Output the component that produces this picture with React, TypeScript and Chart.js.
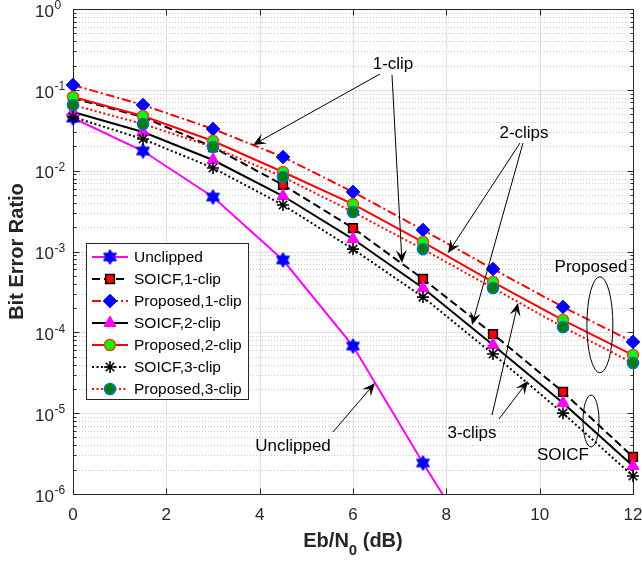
import React, { useEffect, useRef } from 'react';
import { Chart, registerables } from 'chart.js';

Chart.register(...registerables);

// ---------------- data ----------------
const ebn0 = [0, 1.5, 3, 4.5, 6, 7.5, 9, 10.5, 12];
const unclippedEbn0 = [0, 1.5, 3, 4.5, 6, 7.5, 9];
const unclipped = [0.0448, 0.0175, 0.00472, 7.85e-4, 6.77e-5, 2.42e-6, 1e-7];
const soicf1 = [0.079, 0.046, 0.0196, 0.00665, 0.00195, 4.57e-4, 9.53e-5, 1.83e-5, 2.87e-6];
const proposed1 = [0.1148, 0.0649, 0.0328, 0.01475, 0.00545, 0.001845, 6.07e-4, 2.06e-4, 7.59e-5];
const soicf2 = [0.0532, 0.0301, 0.01355, 0.00486, 0.001426, 3.53e-4, 6.97e-5, 1.34e-5, 2.22e-6];
const proposed2 = [0.0815, 0.0475, 0.0233, 0.00962, 0.00386, 0.00131, 4.19e-4, 1.42e-4, 5.24e-5];
const soicf3 = [0.0461, 0.0246, 0.0108, 0.00376, 0.00107, 2.73e-4, 5.39e-5, 1.0e-5, 1.67e-6];
const proposed3 = [0.0649, 0.0378, 0.0196, 0.00835, 0.00308, 0.00107, 3.53e-4, 1.16e-4, 4.17e-5];

const seriesLabels = [
  'Unclipped',
  'SOICF,1-clip',
  'Proposed,1-clip',
  'SOICF,2-clip',
  'Proposed,2-clip',
  'SOICF,3-clip',
  'Proposed,3-clip',
];

const xTickValues = [0, 2, 4, 6, 8, 10, 12];
const yTickExponents = [0, -1, -2, -3, -4, -5, -6];
const xTitleMain = 'Eb/N';
const xTitleSub = '0';
const xTitleTail = ' (dB)';
const yTitle = 'Bit Error Ratio';

// annotations in data coordinates
const textNotes = [
  { text: '1-clip', x: 6.857, y: 0.209 },
  { text: '2-clips', x: 9.664, y: 0.0292 },
  { text: 'Proposed', x: 11.1, y: 6.43e-4 },
  { text: 'SOICF', x: 10.5, y: 3.03e-6 },
  { text: '3-clips', x: 8.55, y: 5.69e-6 },
  { text: 'Unclipped', x: 4.714, y: 3.92e-6 },
];
const arrowFrom = [
  [6.579, 0.157],
  [6.836, 0.1526],
  [9.579, 0.022],
  [9.643, 0.022],
  [8.979, 9.48e-6],
  [9.129, 8.47e-6],
  [5.571, 5.85e-6],
];
const arrowTo = [
  [3.857, 0.0208],
  [7.05, 7.21e-4],
  [8.036, 9.58e-4],
  [8.55, 1.23e-4],
  [9.536, 2.31e-4],
  [9.75, 2.5e-5],
  [6.471, 2.36e-5],
];
const ellipseCenters = [
  [11.29, 1.24e-4],
  [11.1, 8.0e-6],
];

// ---------------- styles ----------------
const FONT = "'Liberation Sans', Arial, Helvetica, sans-serif";
const AXIS_COLOR = '#262626';

type MarkerKind = 'hexagram' | 'square' | 'diamond' | 'triangle' | 'circle' | 'star';
interface SeriesStyle {
  color: string;
  dash: number[];
  marker: MarkerKind;
  fill: string;
  edge: string;
}
const seriesStyles: SeriesStyle[] = [
  { color: '#ff00ff', dash: [], marker: 'hexagram', fill: '#0000ff', edge: '#0000ff' },
  { color: '#000000', dash: [8, 4], marker: 'square', fill: '#ff0000', edge: '#000000' },
  { color: '#ff0000', dash: [9, 3, 2, 3], marker: 'diamond', fill: '#0000ff', edge: '#0000ff' },
  { color: '#000000', dash: [], marker: 'triangle', fill: '#ff00ff', edge: '#ff00ff' },
  { color: '#ff0000', dash: [], marker: 'circle', fill: '#00ff00', edge: '#d95319' },
  { color: '#000000', dash: [2, 2.5], marker: 'star', fill: '#000000', edge: '#000000' },
  { color: '#ff0000', dash: [2, 2.5], marker: 'circle', fill: '#008000', edge: '#0072bd' },
];

function makeHexagram(): HTMLCanvasElement {
  const c = document.createElement('canvas');
  c.width = 17;
  c.height = 17;
  const g = c.getContext('2d')!;
  const cx = 8.5;
  const cy = 8.5;
  const R = 7.5;
  const r = R / Math.sqrt(3);
  g.beginPath();
  for (let k = 0; k < 12; k++) {
    const ang = -Math.PI / 2 + (k * Math.PI) / 6;
    const rr = k % 2 === 0 ? R : r;
    const px = cx + rr * Math.cos(ang);
    const py = cy + rr * Math.sin(ang);
    if (k === 0) g.moveTo(px, py);
    else g.lineTo(px, py);
  }
  g.closePath();
  g.fillStyle = '#0000ff';
  g.fill();
  g.strokeStyle = '#0000ff';
  g.lineWidth = 1;
  g.stroke();
  return c;
}

function pointOpts(st: SeriesStyle, hex: HTMLCanvasElement) {
  switch (st.marker) {
    case 'hexagram':
      return { pointStyle: hex, pointRadius: 7, pointBorderWidth: 1 };
    case 'square':
      return { pointStyle: 'rect', pointRadius: 6.2, pointBorderWidth: 1.5 };
    case 'diamond':
      return { pointStyle: 'rectRot', pointRadius: 6.8, pointBorderWidth: 1 };
    case 'triangle':
      return { pointStyle: 'triangle', pointRadius: 7, pointBorderWidth: 1 };
    case 'circle':
      return { pointStyle: 'circle', pointRadius: 5.5, pointBorderWidth: 1.6 };
    case 'star':
      return { pointStyle: 'star', pointRadius: 6, pointBorderWidth: 1.6 };
  }
}

function drawLegendMarker(ctx: CanvasRenderingContext2D, st: SeriesStyle, x: number, y: number, hex: HTMLCanvasElement) {
  ctx.save();
  ctx.setLineDash([]);
  ctx.fillStyle = st.fill;
  ctx.strokeStyle = st.edge;
  ctx.beginPath();
  switch (st.marker) {
    case 'hexagram':
      ctx.drawImage(hex, x - hex.width / 2, y - hex.height / 2);
      ctx.restore();
      return;
    case 'square': {
      const s = 6.2 * Math.SQRT1_2;
      ctx.lineWidth = 1.5;
      ctx.rect(x - s, y - s, 2 * s, 2 * s);
      ctx.fill();
      ctx.stroke();
      break;
    }
    case 'diamond': {
      const r = 6.8;
      ctx.lineWidth = 1;
      ctx.moveTo(x - r, y);
      ctx.lineTo(x, y - r);
      ctx.lineTo(x + r, y);
      ctx.lineTo(x, y + r);
      ctx.closePath();
      ctx.fill();
      ctx.stroke();
      break;
    }
    case 'triangle': {
      const r = 7;
      ctx.lineWidth = 1;
      ctx.moveTo(x, y - r);
      ctx.lineTo(x + r * Math.sin((2 * Math.PI) / 3), y + r / 2);
      ctx.lineTo(x - r * Math.sin((2 * Math.PI) / 3), y + r / 2);
      ctx.closePath();
      ctx.fill();
      ctx.stroke();
      break;
    }
    case 'circle': {
      ctx.lineWidth = 1.6;
      ctx.arc(x, y, 5.5, 0, Math.PI * 2);
      ctx.fill();
      ctx.stroke();
      break;
    }
    case 'star': {
      const r = 6;
      ctx.lineWidth = 1.6;
      for (let k = 0; k < 4; k++) {
        const a = (k * Math.PI) / 4;
        ctx.moveTo(x - r * Math.cos(a), y - r * Math.sin(a));
        ctx.lineTo(x + r * Math.cos(a), y + r * Math.sin(a));
      }
      ctx.stroke();
      break;
    }
  }
  ctx.restore();
}

function hline(ctx: CanvasRenderingContext2D, x1: number, x2: number, y: number) {
  ctx.beginPath();
  ctx.moveTo(x1, y);
  ctx.lineTo(x2, y);
  ctx.stroke();
}
function vline(ctx: CanvasRenderingContext2D, x: number, y1: number, y2: number) {
  ctx.beginPath();
  ctx.moveTo(x, y1);
  ctx.lineTo(x, y2);
  ctx.stroke();
}

const framePlugin = {
  id: 'matlabFrame',
  beforeDatasetsDraw(chart: any) {
    const { ctx, chartArea: a, scales } = chart;
    const xs = scales.x;
    const ys = scales.y;
    ctx.save();
    // minor y grid (dotted)
    ctx.lineWidth = 1;
    ctx.strokeStyle = '#c9c9c9';
    ctx.setLineDash([1, 2]);
    for (let e = -6; e < 0; e++) {
      for (let m = 2; m <= 9; m++) {
        const py = Math.round(ys.getPixelForValue(m * Math.pow(10, e))) + 0.5;
        hline(ctx, a.left, a.right, py);
      }
    }
    // major grid
    ctx.setLineDash([]);
    ctx.strokeStyle = '#e1e1e1';
    for (const e of yTickExponents) {
      const py = Math.round(ys.getPixelForValue(Math.pow(10, e))) + 0.5;
      hline(ctx, a.left, a.right, py);
    }
    for (const v of xTickValues) {
      const px = Math.round(xs.getPixelForValue(v)) + 0.5;
      vline(ctx, px, a.top, a.bottom);
    }
    // box
    ctx.strokeStyle = AXIS_COLOR;
    ctx.lineWidth = 1;
    const L = Math.round(a.left) + 0.5;
    const R = Math.round(a.right) + 0.5;
    const T = Math.round(a.top) + 0.5;
    const B = Math.round(a.bottom) + 0.5;
    ctx.strokeRect(L, T, R - L, B - T);
    // x ticks
    for (const v of xTickValues) {
      const px = Math.round(xs.getPixelForValue(v)) + 0.5;
      vline(ctx, px, B, B - 6);
      vline(ctx, px, T, T + 6);
    }
    // y ticks
    for (let e = -6; e <= 0; e++) {
      const py = Math.round(ys.getPixelForValue(Math.pow(10, e))) + 0.5;
      hline(ctx, L, L + 6, py);
      hline(ctx, R, R - 6, py);
      if (e < 0) {
        for (let m = 2; m <= 9; m++) {
          const qy = Math.round(ys.getPixelForValue(m * Math.pow(10, e))) + 0.5;
          hline(ctx, L, L + 3, qy);
          hline(ctx, R, R - 3, qy);
        }
      }
    }
    ctx.restore();
  },
};

function makeOverlayPlugin(hex: HTMLCanvasElement) {
  return {
    id: 'overlay',
    afterDatasetsDraw(chart: any) {
      const { ctx, chartArea: a, scales } = chart;
      const xs = scales.x;
      const ys = scales.y;
      ctx.save();
      ctx.setLineDash([]);
      // x tick labels
      ctx.fillStyle = AXIS_COLOR;
      ctx.font = `17px ${FONT}`;
      ctx.textAlign = 'center';
      ctx.textBaseline = 'middle';
      for (const v of xTickValues) {
        ctx.fillText(String(v), xs.getPixelForValue(v), a.bottom + 21);
      }
      // y tick labels 10^e
      for (const e of yTickExponents) {
        const py = ys.getPixelForValue(Math.pow(10, e));
        ctx.font = `17px ${FONT}`;
        ctx.textAlign = 'left';
        ctx.textBaseline = 'middle';
        ctx.fillText('10', 35, py + 3);
        const w = ctx.measureText('10').width;
        ctx.font = `12px ${FONT}`;
        ctx.fillText(String(e), 35 + w + 0.5, py - 3);
      }
      // x title
      ctx.textBaseline = 'alphabetic';
      ctx.textAlign = 'left';
      ctx.font = `bold 20px ${FONT}`;
      const wMain = ctx.measureText(xTitleMain).width;
      const wTail = ctx.measureText(xTitleTail).width;
      ctx.font = `bold 15px ${FONT}`;
      const wSub = ctx.measureText(xTitleSub).width;
      const total = wMain + wSub + wTail;
      const cx = (a.left + a.right) / 2;
      let sx = cx - total / 2;
      ctx.font = `bold 20px ${FONT}`;
      ctx.fillText(xTitleMain, sx, 547);
      sx += wMain;
      ctx.font = `bold 15px ${FONT}`;
      ctx.fillText(xTitleSub, sx, 555);
      sx += wSub;
      ctx.font = `bold 20px ${FONT}`;
      ctx.fillText(xTitleTail, sx, 547);
      // y title
      ctx.save();
      ctx.translate(17, (a.top + a.bottom) / 2);
      ctx.rotate(-Math.PI / 2);
      ctx.textAlign = 'center';
      ctx.textBaseline = 'middle';
      ctx.font = `bold 20px ${FONT}`;
      ctx.fillText(yTitle, 0, 0);
      ctx.restore();

      // annotation texts
      ctx.fillStyle = '#000000';
      ctx.font = `17px ${FONT}`;
      ctx.textAlign = 'center';
      ctx.textBaseline = 'middle';
      for (const n of textNotes) {
        ctx.fillText(n.text, xs.getPixelForValue(n.x), ys.getPixelForValue(n.y));
      }
      // arrows
      ctx.strokeStyle = '#000000';
      ctx.fillStyle = '#000000';
      ctx.lineWidth = 1;
      for (let i = 0; i < arrowFrom.length; i++) {
        const x1 = xs.getPixelForValue(arrowFrom[i][0]);
        const y1 = ys.getPixelForValue(arrowFrom[i][1]);
        const x2 = xs.getPixelForValue(arrowTo[i][0]);
        const y2 = ys.getPixelForValue(arrowTo[i][1]);
        const dx = x2 - x1;
        const dy = y2 - y1;
        const len = Math.hypot(dx, dy);
        const ux = dx / len;
        const uy = dy / len;
        const nx = -uy;
        const ny = ux;
        const HL = 13;
        const HW = 5.5;
        ctx.beginPath();
        ctx.moveTo(x1, y1);
        ctx.lineTo(x2 - ux * 6, y2 - uy * 6);
        ctx.stroke();
        ctx.beginPath();
        ctx.moveTo(x2, y2);
        ctx.lineTo(x2 - ux * HL + nx * HW, y2 - uy * HL + ny * HW);
        ctx.lineTo(x2 - ux * HL * 0.6, y2 - uy * HL * 0.6);
        ctx.lineTo(x2 - ux * HL - nx * HW, y2 - uy * HL - ny * HW);
        ctx.closePath();
        ctx.fill();
      }
      // ellipses
      const radii = [
        [13, 48],
        [8, 26],
      ];
      for (let i = 0; i < ellipseCenters.length; i++) {
        ctx.beginPath();
        ctx.ellipse(
          xs.getPixelForValue(ellipseCenters[i][0]),
          ys.getPixelForValue(ellipseCenters[i][1]),
          radii[i][0],
          radii[i][1],
          0,
          0,
          Math.PI * 2
        );
        ctx.stroke();
      }

      // legend
      const lx = 86.5;
      const ly = 243.5;
      const lw = 162;
      const lh = 156;
      ctx.fillStyle = '#ffffff';
      ctx.fillRect(lx, ly, lw, lh);
      ctx.strokeStyle = AXIS_COLOR;
      ctx.lineWidth = 1;
      ctx.strokeRect(lx, ly, lw, lh);
      ctx.font = `15.5px ${FONT}`;
      ctx.textAlign = 'left';
      ctx.textBaseline = 'middle';
      for (let i = 0; i < seriesLabels.length; i++) {
        const st = seriesStyles[i];
        const ry = 257 + i * 22;
        ctx.save();
        ctx.strokeStyle = st.color;
        ctx.lineWidth = 2;
        ctx.setLineDash(st.dash);
        ctx.beginPath();
        ctx.moveTo(92, ry);
        ctx.lineTo(128, ry);
        ctx.stroke();
        ctx.restore();
        drawLegendMarker(ctx, st, 110, ry, hex);
        ctx.fillStyle = '#000000';
        ctx.fillText(seriesLabels[i], 134, ry + 1);
      }
      ctx.restore();
    },
  };
}

export default function App() {
  const ref = useRef<HTMLCanvasElement>(null);
  useEffect(() => {
    const canvas = ref.current;
    if (!canvas) return;
    const hex = makeHexagram();
    const seriesX = [unclippedEbn0, ebn0, ebn0, ebn0, ebn0, ebn0, ebn0];
    const seriesY = [unclipped, soicf1, proposed1, soicf2, proposed2, soicf3, proposed3];
    const datasets = seriesY.map((ys, i) => {
      const st = seriesStyles[i];
      return {
        label: seriesLabels[i],
        data: seriesX[i].map((x, k) => ({ x, y: ys[k] })),
        borderColor: st.color,
        borderWidth: 2,
        borderDash: st.dash,
        pointBackgroundColor: st.fill,
        pointBorderColor: st.edge,
        ...pointOpts(st, hex),
        fill: false,
        tension: 0,
        order: -i,
        clip: { left: 16, right: 16, top: 16, bottom: 0 },
      };
    });
    const chart = new Chart(canvas, {
      type: 'line',
      data: { datasets: datasets as any },
      options: {
        animation: false,
        responsive: false,
        events: [],
        layout: { padding: { top: 9, right: 9, left: 0, bottom: 0 } },
        plugins: { legend: { display: false }, tooltip: { enabled: false } },
        scales: {
          x: {
            type: 'linear',
            min: 0,
            max: 12,
            ticks: { display: false },
            grid: { display: false },
            border: { display: false },
            afterFit: (s: any) => {
              s.height = 67;
            },
          },
          y: {
            type: 'logarithmic',
            min: 1e-6,
            max: 1,
            ticks: { display: false },
            grid: { display: false },
            border: { display: false },
            afterFit: (s: any) => {
              s.width = 73;
            },
          },
        },
      } as any,
      plugins: [framePlugin, makeOverlayPlugin(hex)],
    });
    return () => chart.destroy();
  }, []);
  return (
    <canvas
      ref={ref}
      width={642}
      height={561}
      style={{ position: 'absolute', left: 0, top: 0, width: 642, height: 561, background: '#ffffff' }}
    />
  );
}
